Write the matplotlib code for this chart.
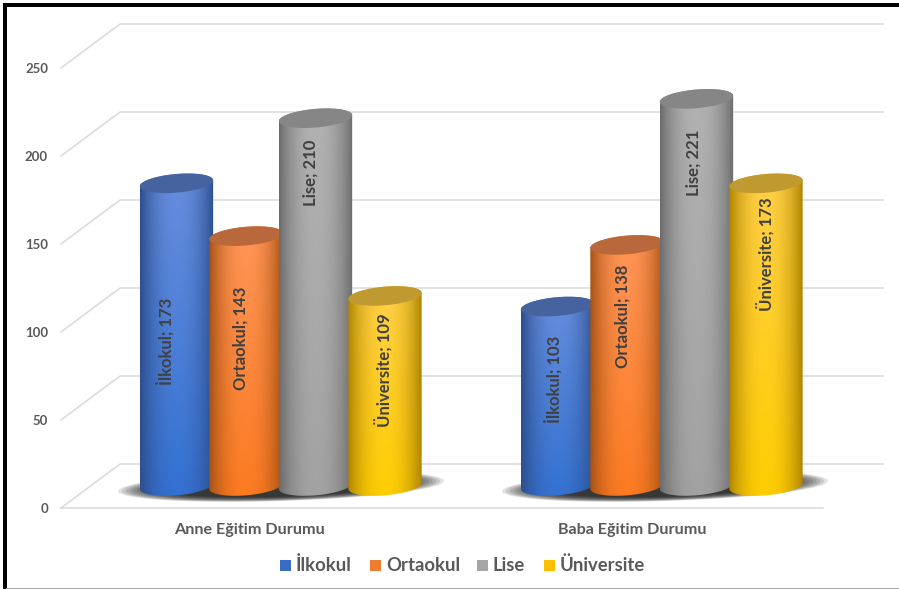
import numpy as np
import matplotlib
matplotlib.use('Agg')
import matplotlib.pyplot as plt
from matplotlib.patches import Polygon, Rectangle
from matplotlib.transforms import Affine2D

plt.rcParams['font.family'] = ['Lato', 'Open Sans', 'DejaVu Sans']

# Data
groups = ['Anne Eğitim Durumu', 'Baba Eğitim Durumu']
series = ['İlkokul', 'Ortaokul', 'Lise', 'Üniversite']
anne = [173, 143, 210, 109]
baba = [103, 138, 221, 173]
yticks = [0, 50, 100, 150, 200, 250]

# Where Excel put the rotated labels (value units / pixels), they are not centred
anne_label_y = [82.4, 84, 178, 65.6]
baba_label_y = [60.8, 96.6, 183.8, 131.5]
anne_label_x = [165, 241, 311, 383]
baba_label_x = [553, 623, 694, 765]

# Style
W, H = 899, 589
UNIT = 1.76      # pixels per value unit
BASE = 486       # pixel row of value 0 at the bar centres
DEPTH = 12.5     # half the floor depth in value units
LID_DROP = 1.8   # lids sit this many pixels lower than the wall scale gives
centers = [[176.5, 246, 315.5, 385], [557.5, 627, 696.5, 766]]
edge_cols = [(45, 78, 140), (165, 82, 20), (108, 108, 108), (175, 132, 0)]
top_cols = [(105, 143, 222), (255, 150, 90), (178, 178, 178), (255, 207, 75)]
bot_cols = [(50, 112, 208), (252, 122, 32), (162, 162, 162), (255, 205, 0)]
lid_cols = ['#46639f', '#b8683a', '#868686', '#bf9a30']
swatch_cols = ['#3a6cc4', '#ed7d31', '#a5a5a5', '#ffc000']
text_col = '#595959'
grid_col = '#d9d9d9'


def ellipse(cx, v, a=36.8, b=9.3, tilt=5.0, t=None, cy_px=0):
    if t is None:
        t = np.linspace(0, 2 * np.pi, 80)
    th = np.radians(tilt)
    x = cx + a * np.cos(t) * np.cos(th) - b * np.sin(t) * np.sin(th)
    y = cy_px + a * np.cos(t) * np.sin(th) + b * np.sin(t) * np.cos(th)
    return x, v + y / UNIT


def cylinder(ax, cx, v, i, z):
    xb, yb = ellipse(cx, 0, t=np.linspace(np.pi, 2 * np.pi, 40))
    xt, yt = ellipse(cx, v, t=np.linspace(0, np.pi, 40), cy_px=-LID_DROP)
    outline = np.column_stack([np.r_[xb, xt], np.r_[yb, yt]])

    u = np.linspace(-1, 1, 120)
    mix = (1 - np.abs(u) ** 2.2)[None, :, None]
    fade = np.linspace(0, 1, 200)[:, None, None]
    centre = np.array(top_cols[i]) * fade + np.array(bot_cols[i]) * (1 - fade)
    edge = np.array(edge_cols[i])
    img = (edge + (centre - edge) * mix) / 255
    im = ax.imshow(img, extent=[cx - 37, cx + 37, -10, v + 10], origin='lower',
                   aspect='auto', zorder=z, interpolation='bilinear')
    im.set_clip_path(Polygon(outline, transform=ax.transData))

    xl, yl = ellipse(cx, v, cy_px=-LID_DROP)
    ax.add_patch(Polygon(np.column_stack([xl, yl]), fc=lid_cols[i], ec='none', zorder=z + 0.1))


fig = plt.figure(figsize=(W / 100, H / 100), dpi=100, facecolor='white')
ax = fig.add_axes([0, 0, 1, 1])
ax.axis('off')
px = Affine2D().scale(1, -1).translate(0, H)  # picture pixels, y going down

# Gridlines on the walls and floor
for v in yticks:
    ax.plot([61, 120, 883], [v - DEPTH, v + DEPTH, v + DEPTH], color=grid_col, lw=1.1, zorder=1)
    ax.text(48, v - DEPTH - 0.5, str(v), ha='right', va='center', fontsize=9.5,
            fontweight='bold', color=text_col)
ax.plot([61, 823], [-DEPTH, -DEPTH], color=grid_col, lw=1.1, zorder=1)

# Floor shadows
for sx in [281, 665]:
    for f in np.linspace(1, 0.7, 14):
        xs, ys = ellipse(sx, 0, a=163 * f, b=15 * f, tilt=1.8, cy_px=0)
        ax.add_patch(Polygon(np.column_stack([xs, ys]), fc='#1a1a1a', ec='none',
                             alpha=0.13, zorder=2))

# Cylinders and their labels
z = 3
for g, vals, label_x, label_y in zip(range(2), [anne, baba], [anne_label_x, baba_label_x],
                                     [anne_label_y, baba_label_y]):
    for i, v in enumerate(vals):
        cylinder(ax, centers[g][i], v, i, z)
        ax.text(label_x[i], label_y[i], f'{series[i]}; {v}', rotation=90, ha='center', va='center',
                fontsize=12, fontweight='bold', color='#404040', zorder=z + 0.2)
        z += 1

ax.set_xlim(0, W)
ax.set_ylim((BASE - H) / UNIT, BASE / UNIT)

# Category labels
ax.text(249.5, 530, groups[0], transform=px, ha='center', va='center', fontsize=11.6,
        fontweight='bold', color=text_col)
ax.text(632, 530, groups[1], transform=px, ha='center', va='center', fontsize=11.6,
        fontweight='bold', color=text_col)

# Legend
swatch_x = [280, 370, 477, 544]
for i, name in enumerate(series):
    ax.add_patch(Rectangle((swatch_x[i], 559.5), 11, 11, transform=px, fc=swatch_cols[i], ec='none'))
    ax.text(swatch_x[i] + 16, 565.5, name, transform=px, ha='left', va='center', fontsize=13.3,
            fontweight='bold', color=text_col)

# Picture frame
for x, y, w, h, c in [(3, 3, 896, 3.5, 'black'), (3, 3, 3.5, 586, 'black'), (6, 587.5, 893, 1.5, '#a6a6a6')]:
    ax.add_patch(Rectangle((x, y), w, h, transform=px, fc=c, ec='none', zorder=50))

fig.savefig('out.png', dpi=100)
